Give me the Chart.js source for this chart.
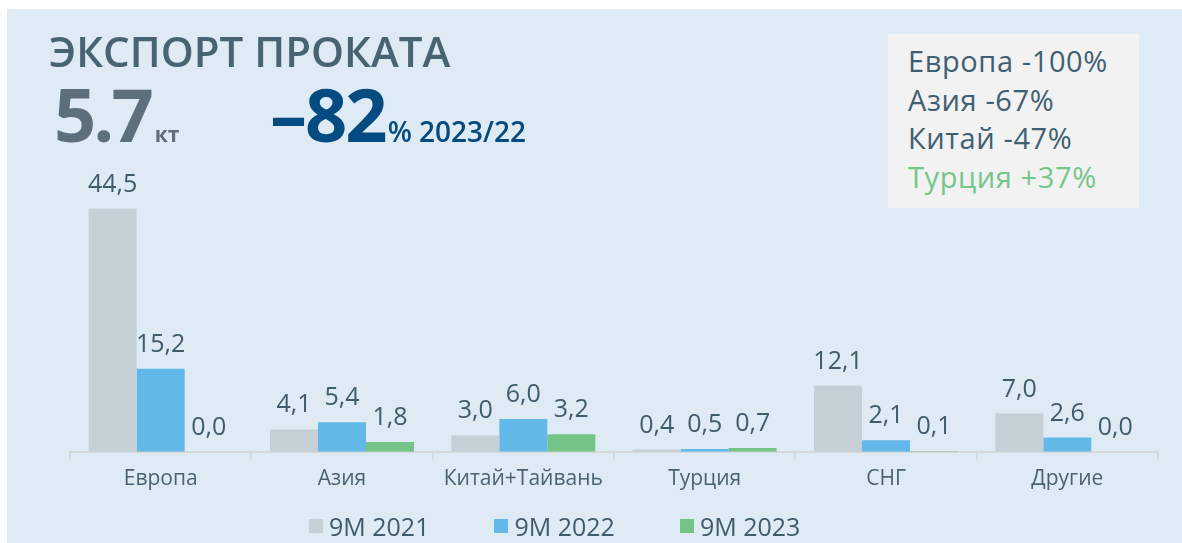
<!DOCTYPE html>
<html lang="ru">
<head>
<meta charset="utf-8">
<title>Экспорт проката</title>
<script src="https://cdn.jsdelivr.net/npm/chart.js@4.4.0/dist/chart.umd.min.js"></script>
<style>
  html, body { margin: 0; padding: 0; background: #ffffff; }
  body { width: 1182px; height: 543px; position: relative; overflow: hidden;
         font-family: 'Open Sans', sans-serif; }
  .panel { position: absolute; left: 7px; top: 9px; right: 0; bottom: 0; background: #deeaf4; }
  .chart-wrap { position: absolute; left: 0; top: 0; width: 1182px; height: 543px; }
  .title { position: absolute; left: 49px; top: 30px; font-size: 42px; line-height: 1;
           font-weight: 600; color: #486372; white-space: nowrap; }
  .kpi { position: absolute; top: 77px; font-size: 74px; line-height: 1; font-weight: 700;
         white-space: nowrap; }
  .kpi.volume { left: 54px; color: #5c6f7b; letter-spacing: -3px; }
  .kpi.volume small { font-size: 21px; letter-spacing: 0; margin-left: 4px; }
  .kpi.change { left: 270px; color: #034b80; letter-spacing: -2px; }
  .kpi.change small { font-size: 28px; font-weight: 600; letter-spacing: 0; margin-left: 2px; }
  .callout { position: absolute; left: 888px; top: 34px; width: 251px; height: 174px;
             background: #f2f2f2; box-sizing: border-box; padding: 8px 0 0 20px; }
  .callout div { font-size: 29px; line-height: 38.5px; letter-spacing: 0.6px; color: #3f6073;
                 white-space: nowrap; }
  .callout div.up { color: #74c68a; }
  .legend { position: absolute; left: 309px; top: 511px; display: flex; gap: 65px; }
  .legend .item { display: flex; align-items: center; height: 30px; font-size: 25px;
                  color: #3f5b6c; white-space: nowrap; }
  .legend .box { width: 14px; height: 14px; margin-right: 6px; }
</style>
</head>
<body>
<div class="panel"></div>
<div class="chart-wrap"><canvas id="chartExport"></canvas></div>

<div class="title">ЭКСПОРТ ПРОКАТА</div>
<div class="kpi volume">5.7<small>кт</small></div>
<div class="kpi change">–82<small>% 2023/22</small></div>

<div class="callout" id="callout"></div>
<div class="legend" id="legend"></div>

<script>
// ===== DATA =====
const CATEGORIES = ['Европа', 'Азия', 'Китай+Тайвань', 'Турция', 'СНГ', 'Другие'];
const SERIES_LABELS = ['9M 2021', '9M 2022', '9M 2023'];
const VALUES_2021 = [44.5, 4.1, 3.0, 0.4, 12.1, 7.0];
const VALUES_2022 = [15.2, 5.4, 6.0, 0.5, 2.1, 2.6];
const VALUES_2023 = [0.0, 1.8, 3.2, 0.7, 0.1, 0.0];
const CALLOUT_LINES = ['Европа -100%', 'Азия -67%', 'Китай -47%', 'Турция +37%'];

// Colors
const GRAY_COLOR = '#c5d0d6';
const BLUE_COLOR = '#62b8e8';
const GREEN_COLOR = '#74c487';
const TEXT_COLOR = '#3f5b6c';
const AXIS_COLOR = '#d3d8db';

Chart.defaults.font.family = "'Open Sans', sans-serif";

// value labels above each bar, "44,5" style
const barValueLabels = {
  id: 'barValueLabels',
  afterDatasetsDraw(chart) {
    const ctx = chart.ctx;
    ctx.save();
    ctx.font = "25px 'Open Sans', sans-serif";
    ctx.fillStyle = TEXT_COLOR;
    ctx.textAlign = 'center';
    ctx.textBaseline = 'alphabetic';
    chart.data.datasets.forEach((ds, i) => {
      const meta = chart.getDatasetMeta(i);
      meta.data.forEach((bar, j) => {
        const txt = ds.data[j].toFixed(1).replace('.', ',');
        ctx.fillText(txt, bar.x, bar.y - 17);
      });
    });
    ctx.restore();
  }
};

const seriesColors = [GRAY_COLOR, BLUE_COLOR, GREEN_COLOR];
const seriesValues = [VALUES_2021, VALUES_2022, VALUES_2023];

new Chart(document.getElementById('chartExport'), {
  type: 'bar',
  data: {
    labels: CATEGORIES,
    datasets: SERIES_LABELS.map((label, i) => ({
      label,
      data: seriesValues[i],
      backgroundColor: seriesColors[i],
      borderWidth: 0,
      barPercentage: 1.0,
      categoryPercentage: 0.794
    }))
  },
  options: {
    responsive: true,
    maintainAspectRatio: false,
    animation: false,
    layout: { padding: { left: 70, right: 24, top: 157, bottom: 44 } },
    plugins: {
      legend: { display: false },
      tooltip: { enabled: false }
    },
    scales: {
      x: {
        grid: {
          drawOnChartArea: false,
          drawTicks: true,
          tickLength: 8,
          color: AXIS_COLOR,
          lineWidth: 2
        },
        border: { color: AXIS_COLOR, width: 2 },
        ticks: { color: '#4a6373', font: { size: 21 }, padding: 7 }
      },
      y: { display: false, min: 0, max: 54 }
    }
  },
  plugins: [barValueLabels]
});

// callout box
const callout = document.getElementById('callout');
CALLOUT_LINES.forEach(line => {
  const d = document.createElement('div');
  d.textContent = line;
  if (line.includes('+')) d.className = 'up';
  callout.appendChild(d);
});

// legend under chart
const legend = document.getElementById('legend');
SERIES_LABELS.forEach((label, i) => {
  const item = document.createElement('div');
  item.className = 'item';
  const box = document.createElement('span');
  box.className = 'box';
  box.style.background = seriesColors[i];
  item.appendChild(box);
  item.appendChild(document.createTextNode(label));
  legend.appendChild(item);
});
</script>
</body>
</html>
